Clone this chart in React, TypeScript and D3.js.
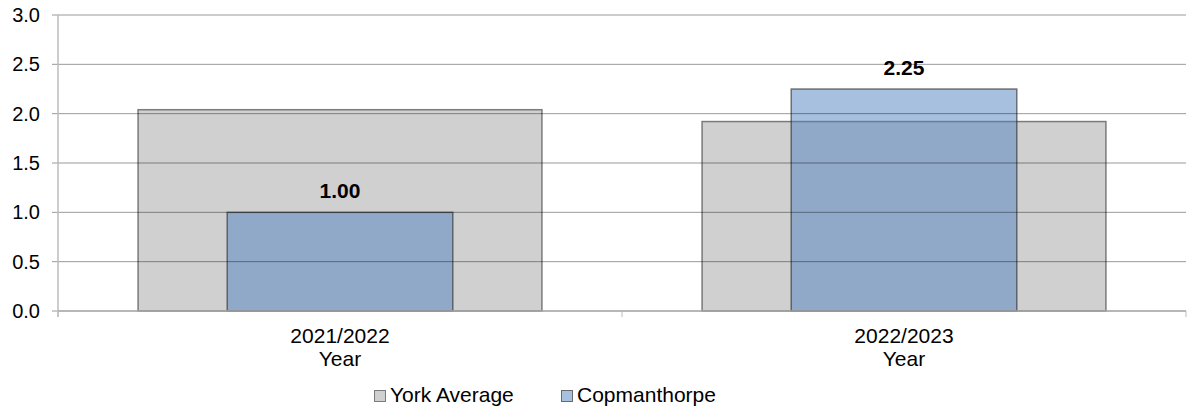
import React from "react";
import * as d3 from "d3";

const categories = ["2021/2022", "2022/2023"];
const categorySub = ["Year", "Year"];
const yorkAverage = [2.04, 1.92];
const copmanthorpe = [1.0, 2.25];
const yTicks = [0, 0.5, 1.0, 1.5, 2.0, 2.5, 3.0];
const seriesNames = ["York Average", "Copmanthorpe"];

const W = 1187;
const H = 409;
const FONT = "'Liberation Sans', Arial, sans-serif";

export default function App() {
  const left = 58;
  const right = 1186;
  const top = 15;
  const bottom = 311;

  const x = d3.scaleBand<string>().domain(categories).range([left, right]).paddingInner(0).paddingOuter(0);
  const y = d3.scaleLinear().domain([0, 3]).range([bottom, top]);
  const bw = x.bandwidth();
  const yorkW = bw * 0.716;
  const copW = bw * 0.4;

  return (
    <svg width={W} height={H} style={{ position: "absolute", left: 0, top: 0, background: "#fff" }} fontFamily={FONT}>
      {categories.map((c, i) => {
        const cx = (x(c) as number) + bw / 2;
        return (
          <rect key={"y" + c} x={cx - yorkW / 2} y={y(yorkAverage[i])} width={yorkW} height={bottom - y(yorkAverage[i])}
            fill="#d0d0d0" stroke="#7a7a7a" strokeWidth={1.5} />
        );
      })}
      {categories.map((c, i) => {
        const cx = (x(c) as number) + bw / 2;
        return (
          <rect key={"c" + c} x={cx - copW / 2} y={y(copmanthorpe[i])} width={copW} height={bottom - y(copmanthorpe[i])}
            fill="rgba(81,129,193,0.5)" stroke="rgba(40,40,40,0.6)" strokeWidth={1.5} />
        );
      })}
      {yTicks.map((t) => (
        <line key={"g" + t} x1={left - 6} x2={right} y1={y(t)} y2={y(t)} stroke="rgba(0,0,0,0.4)" strokeWidth={1} />
      ))}
      <line x1={left} x2={left} y1={top} y2={bottom + 6} stroke="#bdbdbd" strokeWidth={1.5} />
      <line x1={left} x2={right} y1={bottom} y2={bottom} stroke="#b0b0b0" strokeWidth={1.5} />
      {[left, (x(categories[1]) as number), right].map((tx, i) => (
        <line key={"xt" + i} x1={tx} x2={tx} y1={bottom} y2={bottom + 6} stroke="#bdbdbd" strokeWidth={1} />
      ))}
      {yTicks.map((t) => (
        <text key={"yl" + t} x={40} y={y(t) + 7} textAnchor="end" fontSize={20} fill="#000">
          {d3.format(".1f")(t)}
        </text>
      ))}
      {categories.map((c, i) => {
        const cx = (x(c) as number) + bw / 2;
        return (
          <g key={"cl" + c}>
            <text x={cx} y={343} textAnchor="middle" fontSize={21} fill="#000">{c}</text>
            <text x={cx} y={366} textAnchor="middle" fontSize={21} fill="#000">{categorySub[i]}</text>
          </g>
        );
      })}
      {categories.map((c, i) => {
        const cx = (x(c) as number) + bw / 2;
        return (
          <text key={"dl" + c} x={cx} y={y(copmanthorpe[i]) - 14} textAnchor="middle" fontSize={21} fontWeight="bold" fill="#000">
            {d3.format(".2f")(copmanthorpe[i])}
          </text>
        );
      })}
      <g>
        <rect x={374.5} y={390.5} width={11} height={11} fill="#d0d0d0" stroke="#7a7a7a" strokeWidth={1} />
        <text x={390} y={402} fontSize={21} fill="#000">{seriesNames[0]}</text>
        <rect x={561.5} y={390.5} width={11} height={11} fill="#a8c0e0" stroke="#6a6a6a" strokeWidth={1} />
        <text x={577} y={402} fontSize={21} fill="#000">{seriesNames[1]}</text>
      </g>
    </svg>
  );
}
